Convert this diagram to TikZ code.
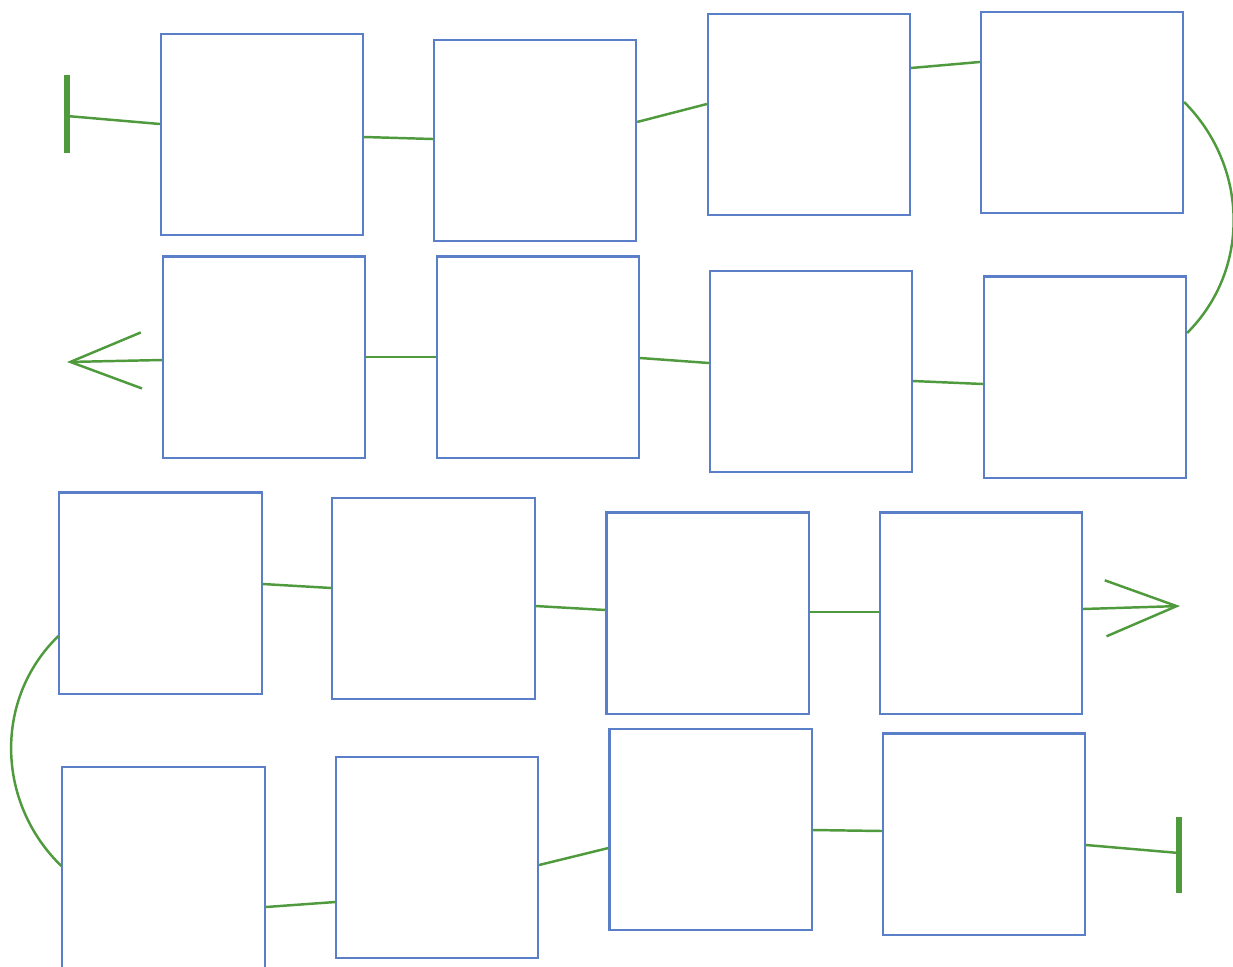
\documentclass[tikz,border=0pt]{standalone}
\usetikzlibrary{arrows.meta}
\definecolor{azul}{RGB}{90,127,200}
\definecolor{verde}{RGB}{79,154,60}
\tikzset{
	caja/.style={draw=azul, line width=0.6pt, rectangle, inner sep=0pt,
		minimum width=2.02cm, minimum height=2.01cm},
	enlace/.style={draw=verde, line width=0.7pt},
	tope/.style={draw=verde, line width=1.7pt},
	flecha/.style={enlace, -{Straight Barb[length=7.1mm, width=5.6mm, line width=0.7pt]}}
}
\begin{document}
\begin{tikzpicture}[x=0.01cm, y=-0.01cm]
\useasboundingbox (0,0) rectangle (1233,966);

% Cajas
	\foreach \nombre/\x/\y in {a1/262/134.5, a2/535/140.5, a3/809/114.5, a4/1082/112.5,
		b1/264/357, b2/538/357, b3/811/371.5, b4/1085/377,
		c1/160.5/593, c2/433.5/598.5, c3/707.5/613, c4/981/613,
		d1/163.5/867.5, d2/437/857.5, d3/710.5/829.5, d4/984/834}
		\node[caja] (\nombre) at (\x,\y) {};

% Primer recorrido
	\coordinate (ini1) at (67,116);
	\draw[tope] (ini1) ++(0,-41) -- ++(0,78);
	\draw[enlace] (ini1) -- ([yshift=1.05mm]a1.west);
	\draw[enlace] ([yshift=-0.25mm]a1.east) -- ([yshift=0.15mm]a2.west);
	\draw[enlace] ([yshift=1.85mm]a2.east) -- ([yshift=1.05mm]a3.west);
	\draw[enlace] ([yshift=4.65mm]a3.east) -- ([yshift=5.05mm]a4.west);
	\draw[enlace] ([yshift=1.05mm]a4.east) .. controls +(64,64) and +(64,-64) .. ([yshift=4.4mm]b4.east);
	\draw[enlace] ([yshift=-0.7mm]b4.west) -- ([yshift=-0.95mm]b3.east);
	\draw[enlace] ([yshift=0.85mm]b3.west) -- ([yshift=-0.1mm]b2.east);
	\draw[enlace] (b2.west) -- (b1.east);
	\coordinate (fin1) at (67,362);
	\draw[flecha] ([yshift=-0.3mm]b1.west) -- (fin1);

% Segundo recorrido
	\coordinate (fin2) at (1180,606);
	\draw[enlace] ([yshift=-4.3mm]c1.west) .. controls +(-65,63) and +(-65,-63) .. ([yshift=0.15mm]d1.west);
	\draw[enlace] ([yshift=0.9mm]c1.east) -- ([yshift=1.05mm]c2.west);
	\draw[enlace] ([yshift=-0.75mm]c2.east) -- ([yshift=0.3mm]c3.west);
	\draw[enlace] ([yshift=0.1mm]c3.east) -- ([yshift=0.1mm]c4.west);
	\draw[flecha] ([yshift=0.4mm]c4.east) -- (fin2);
	\draw[enlace] ([yshift=-3.95mm]d1.east) -- ([yshift=-4.45mm]d2.west);
	\draw[enlace] ([yshift=-0.75mm]d2.east) -- ([yshift=-1.85mm]d3.west);
	\draw[enlace] ([yshift=-0.05mm]d3.east) -- ([yshift=0.3mm]d4.west);
	\coordinate (ini2) at (1179,853);
	\draw[enlace] ([yshift=-1.1mm]d4.east) -- (ini2);
	\draw[tope] (ini2) ++(0,-36) -- ++(0,76);
\end{tikzpicture}
\end{document}
